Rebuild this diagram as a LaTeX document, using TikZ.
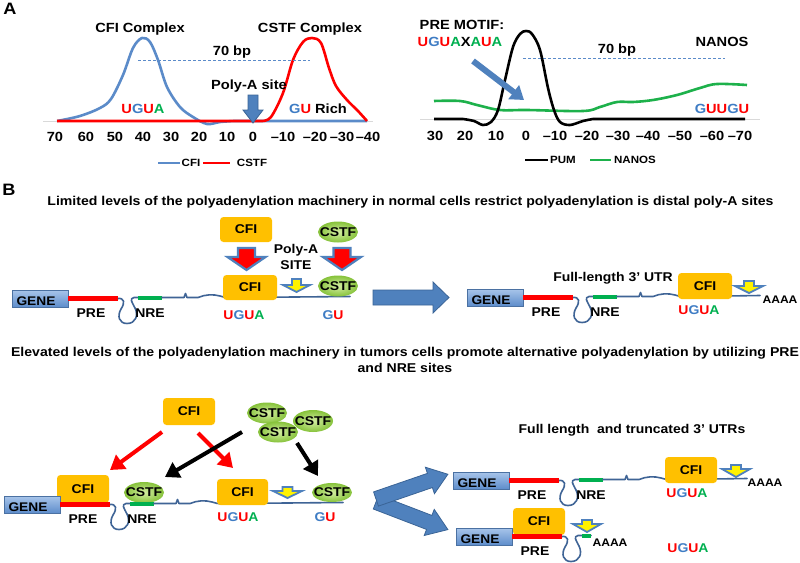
\documentclass[tikz,border=0pt]{standalone}
\usepackage{fontspec}
\setmainfont{Liberation Sans}[FakeStretch=1.1]
\usetikzlibrary{shapes.geometric,arrows.meta}
\definecolor{cred}{HTML}{FF0000}
\definecolor{cblue}{HTML}{3E7CC4}
\definecolor{cgreen}{HTML}{00B050}
\definecolor{curveblue}{HTML}{5B8BC9}
\definecolor{arrblue}{HTML}{4F81BD}
\definecolor{arrdark}{HTML}{3A6496}
\definecolor{rnablue}{HTML}{3F6496}
\definecolor{cfiorange}{HTML}{FFC000}
\definecolor{cstflight}{HTML}{D4EEA2}
\definecolor{cstfdark}{HTML}{86C23A}
\definecolor{genetop}{HTML}{A8C5EA}
\definecolor{genebot}{HTML}{5E8DCB}
\definecolor{axisgray}{HTML}{D9D9D9}
\definecolor{nanosgreen}{HTML}{1DB14B}
\newcommand{\myfs}[1]{\fontsize{#1}{#1}\selectfont\bfseries}
\newcommand{\uguatxt}{\textcolor{cred}{U}\textcolor{cblue}{G}\textcolor{cred}{U}\textcolor{cgreen}{A}}
\newcommand{\gutxt}{\textcolor{cblue}{G}\textcolor{cred}{U}}
% style, cx, top, tip, shaft half width, head start y, head half width
\newcommand{\blockdown}[7]{\draw[#1] ({#2-#5},#3) -- ({#2+#5},#3) -- ({#2+#5},#6) -- ({#2+#7},#6) -- (#2,#4) -- ({#2-#7},#6) -- ({#2-#5},#6) -- cycle;}
\newcommand{\rnarow}[4]{%
\begin{scope}[shift={(#1,#2)}]
 \draw[rna] (117,298.5) .. controls (125,297.5) and (125,303) .. (121,309) .. controls (117,316) and (119,323.5) .. (127,323.5) .. controls (136,323.5) and (138.5,315) .. (135,308) .. controls (132,302) and (129,298.5) .. (134,297.5) -- (#4,297.5);
 \node[genebox] (#3gene) at (40,298.5) {};
 \node[genetxt] (#3gtxt) at (36,301.5) {GENE};
 \draw[prered] (#3gene.east) -- (118,298.5);
 \draw[nregreen] (138,297.5) -- (#4,297.5);
 \node[txt] (#3pre) at (91,313) {PRE};
\end{scope}}
\newcommand{\rnatail}[3]{%
\begin{scope}[shift={(#1,#2)}]
 \draw[rna] (162,297.5) -- (184,297.5) -- (185.5,293.5) -- (187,297.5) -- (198,297.5) .. controls (205,294.5) and (213,294) .. (220,296) .. controls (226,298) and (231,298.5) .. (238,297.5) -- (#3,296.5);
\end{scope}}
\begin{document}
\begin{tikzpicture}[x=1pt,y=-1pt,
 txt/.style={inner sep=0pt, font=\myfs{12.7}},
 atxt/.style={inner sep=0pt, font=\myfs{13.3}},
 tick/.style={inner sep=0pt, font=\myfs{13.3}},
 leg/.style={inner sep=0pt, font=\myfs{10.5}},
 axisline/.style={draw=axisgray, line width=1},
 cfiline/.style={draw=curveblue, line width=2.6, line join=round},
 cstfline/.style={draw=cred, line width=2.6, line join=round},
 pumline/.style={draw=black, line width=2.6, line join=round},
 nanosline/.style={draw=nanosgreen, line width=2.6, line join=round},
 dashline/.style={draw=curveblue, line width=0.8, dash pattern=on 3pt off 2pt},
 rna/.style={draw=rnablue, line width=1.6, line join=round, line cap=round},
 prered/.style={draw=cred, line width=4.5},
 nregreen/.style={draw=cgreen, line width=4},
 genebox/.style={rectangle, top color=genetop, bottom color=genebot, draw=genebot!80!black, line width=0.5, minimum width=56, minimum height=17, inner sep=0pt},
 genetxt/.style={inner sep=0pt, font=\myfs{12.5}},
 cfibox/.style={rectangle, rounded corners=3.5, fill=cfiorange, inner sep=0pt, font=\myfs{12.7}},
 cstf/.style={ellipse, inner color=cstflight, outer color=cstfdark, minimum width=40, minimum height=21, inner sep=0pt, font=\myfs{12.7}},
 redblock/.style={fill=cred, draw=arrblue, line width=2.2, line join=miter},
 yelblock/.style={fill=yellow, draw=arrblue, line width=1.8, line join=miter},
 bigarrow/.style={fill=arrblue, draw=arrdark, line width=0.8, line join=miter},
 redarr/.style={draw=cred, line width=4, -{Triangle[length=14pt, width=17pt]}},
 blackarr/.style={draw=black, line width=4, -{Triangle[length=14pt, width=17pt]}},
 motifarr/.style={draw=arrblue, line width=6, -{Triangle[length=13pt, width=17pt]}}
]
\useasboundingbox (0,0) rectangle (800,562);
\fill[white] (0,0) rectangle (800,562);

% ================= Panel A left =================
\node[inner sep=0pt, font=\myfs{16.5}] (labA) at (10,9) {A};
\node[atxt] (cfic) at (140,29) {CFI Complex};
\node[atxt] (cstfc) at (310,29) {CSTF Complex};
\draw[axisline] (43,121) -- (373,121);
\draw[cfiline] plot[smooth, tension=0.55] coordinates {(57,121) (80,116) (100,108) (111,99) (123,75) (133,48) (142,38) (150,42) (158,60) (167,87) (180,107) (193,117) (207,124) (220,122) (234,121)} -- (367,121);
\draw[cstfline] (57,121) -- plot[smooth, tension=0.55] coordinates {(262,121) (271,117) (283,93) (293,60) (303,42) (312,38) (321,43) (329,68) (336,86) (347,100) (358,111) (367,121)};
\draw[dashline] (138,60) -- (310,60);
\node[atxt] (bp1) at (232,52) {70 bp};
\node[atxt] (pas) at (249,86) {Poly-A site};
\blockdown{bigarrow}{253}{95}{123}{5}{110}{10}
\node[atxt] (ugA) at (143,109) {\uguatxt};
\node[atxt] (guA) at (318,109) {\gutxt\ Rich};
\foreach \x/\t [count=\i] in {55/70,86/60,115/50,143/40,171/30,199/20,227/10,253/0,283/–10,315/–20,342/–30,368/–40}
  \node[tick] (tla\i) at (\x,137) {\t};
\draw[cfiline] (158,163) -- (180,163);
\node[leg] (legcfi) at (191,163) {CFI};
\draw[cstfline] (203,163) -- (230,163);
\node[leg] (legcstf) at (252,163) {CSTF};

% ================= Panel A right =================
\node[atxt] (premotif) at (462,25) {PRE MOTIF:};
\node[atxt] (premseq) at (460,42) {\textcolor{cred}{U}\textcolor{cblue}{G}\textcolor{cred}{U}\textcolor{cgreen}{A}X\textcolor{cgreen}{A}\textcolor{cred}{U}\textcolor{cgreen}{A}};
\node[atxt] (nanosl) at (722,42) {NANOS};
\draw[dashline] (523,58) -- (725,58);
\node[atxt] (bp2) at (617,50) {70 bp};
\draw[axisline] (420,119) -- (760,119);
\draw[nanosline] plot[smooth, tension=0.6] coordinates {(434,101) (460,101) (477,105) (500,110) (527,110) (583,111) (600,107) (617,102) (633,102) (653,100) (677,95) (700,88) (717,84) (747,85)};
\draw[pumline] (434,119) -- plot[smooth, tension=0.55] coordinates {(463,119) (474,121) (483,125) (491,122) (498,110) (505,80) (513,47) (520,34) (526,31) (532,34) (540,50) (548,88) (554,110) (560,122) (570,125) (583,121) (593,119)} -- (745,119);
\coordinate (pmA) at (473,61);
\coordinate (pmB) at (524,100);
\draw[motifarr] (pmA) -- (pmB);
\node[atxt] (guugu) at (722,109) {\textcolor{cblue}{G}\textcolor{cred}{U}\textcolor{cred}{U}\textcolor{cblue}{G}\textcolor{cred}{U}};
\foreach \x/\t [count=\i] in {435/30,465/20,496/10,526/0,555/–10,587/–20,618/–30,648/–40,680/–50,712/–60,740/–70}
  \node[tick] (tlb\i) at (\x,136) {\t};
\draw[pumline] (525,160) -- (548,160);
\node[leg] (legpum) at (563,160) {PUM};
\draw[nanosline] (590,160) -- (611,160);
\node[leg] (legnanos) at (635,160) {NANOS};

% ================= Panel B, row 1 =================
\node[inner sep=0pt, font=\myfs{16.5}] (labB) at (9,190) {B};
\node[inner sep=0pt, font=\myfs{12.8}] (title1) at (410.5,202) {Limited levels of the polyadenylation machinery in normal cells restrict polyadenylation is distal poly-A sites};

\rnarow{0}{0}{ra}{162}
\rnatail{0}{0}{350}
\node[txt] (nrea) at (150,313) {NRE};
\node[cfibox, minimum width=52, minimum height=25] (cfi1t) at (246,229.5) {CFI};
\node[cstf] (cstf1t) at (338,232) {\makebox[0pt]{CSTF}};
\blockdown{redblock}{246.5}{248}{270}{8.5}{257}{19}
\blockdown{redblock}{342}{248}{270}{8.5}{257}{19}
\node[inner sep=0pt, align=center, font=\fontsize{12.7}{15.5}\selectfont\bfseries] (polya1) at (296,257) {Poly-A\\SITE};
\node[cfibox, minimum width=54, minimum height=25] (cfi1) at (250,287.5) {CFI};
\blockdown{yelblock}{296.5}{279}{292}{4.5}{285}{13.5}
\node[cstf] (cstf1) at (338,286) {\makebox[0pt]{CSTF}};
\node[txt] (ug1) at (244,315) {\uguatxt};
\node[txt] (gu1) at (333,315) {\gutxt};

\draw[bigarrow] (373,290) -- (433,290) -- (433,282) -- (449,297.5) -- (433,313) -- (433,305) -- (373,305) -- cycle;

\rnarow{455}{-1}{rb}{162}
\rnatail{455}{-1}{305}
\node[txt] (nreb) at (605,312) {NRE};
\node[txt] (fl) at (613,278) {Full-length 3’ UTR};
\node[cfibox, minimum width=54, minimum height=26] (cfi2) at (705,286) {CFI};
\blockdown{yelblock}{749}{281}{293}{5}{286}{14}
\node[inner sep=0pt, font=\myfs{11}] (aaaa1) at (780,300) {AAAA};
\node[txt] (ug2) at (699,310) {\uguatxt};

% ================= Panel B, row 2 =================
\node[inner sep=0pt, align=center, font=\fontsize{12.8}{16}\selectfont\bfseries] (title2) at (405,360) {Elevated levels of the polyadenylation machinery in tumors cells promote alternative polyadenylation by utilizing PRE\\and NRE sites};

\node[cfibox, minimum width=52, minimum height=27] (cfi3t) at (189,411.5) {CFI};
\node[cstf] (cs3a) at (267,413) {\makebox[0pt]{CSTF}};
\node[cstf, minimum height=22] (cs3b) at (313,421) {\makebox[0pt]{CSTF}};
\node[cstf] (cs3c) at (278,432) {\makebox[0pt]{CSTF}};

\coordinate (ra1s) at (162,432);
\coordinate (ra1e) at (110,470);
\coordinate (ra2s) at (198,433);
\coordinate (ra2e) at (233,468);
\coordinate (ba1s) at (242,432);
\coordinate (ba1e) at (165,477);
\coordinate (ba2s) at (297,443);
\coordinate (ba2e) at (318,476);
\draw[redarr] (ra1s) -- (ra1e);
\draw[redarr] (ra2s) -- (ra2e);
\draw[blackarr] (ba1s) -- (ba1e);
\draw[blackarr] (ba2s) -- (ba2e);

\node[cfibox, minimum width=52, minimum height=28] (cfi3a) at (83,489) {CFI};
\node[cstf] (cs3d) at (144,492.5) {\makebox[0pt]{CSTF}};
\rnarow{-8}{206}{rc}{162}
\rnatail{-8}{206}{351}
\node[txt] (nrec) at (142,519) {NRE};
\node[cfibox, minimum width=51, minimum height=26] (cfi3b) at (242.5,492) {CFI};
\blockdown{yelblock}{287.5}{487}{498}{5}{491}{14.5}
\node[cstf, minimum height=19] (cs3e) at (332,492.5) {\makebox[0pt]{CSTF}};
\node[txt] (ug3) at (238,517) {\uguatxt};
\node[txt] (gu3) at (325,517) {\gutxt};

% fork arrows
\begin{scope}[shift={(376,502)}, rotate=-21]
 \draw[bigarrow] (0,-7.5) -- (57,-7.5) -- (57,-14) -- (77,0) -- (57,14) -- (57,7.5) -- (0,7.5) -- cycle;
\end{scope}
\begin{scope}[shift={(376,499)}, rotate=19]
 \draw[bigarrow] (0,-7.5) -- (57,-7.5) -- (57,-14) -- (76,0) -- (57,14) -- (57,7.5) -- (0,7.5) -- cycle;
\end{scope}

\node[txt] (fltr) at (632,430) {Full length\ \ and truncated 3’ UTRs};
\rnarow{441}{182}{rd}{162}
\rnatail{441}{182}{306}
\node[txt] (nred) at (591,495) {NRE};
\node[cfibox, minimum width=52, minimum height=26] (cfi4) at (691,470) {CFI};
\blockdown{yelblock}{736}{465}{477}{5}{469}{14}
\node[inner sep=0pt, font=\myfs{11}] (aaaa2) at (765,483) {AAAA};
\node[txt] (ug4) at (687,493) {\uguatxt};

\node[cfibox, minimum width=52, minimum height=27] (cfi5) at (539,521.5) {CFI};
\rnarow{444}{238}{re}{147}
\blockdown{yelblock}{587}{520}{532}{5}{524}{14}
\node[inner sep=0pt, font=\myfs{11}] (aaaa3) at (610,543) {AAAA};
\node[txt] (ug5) at (688,548) {\uguatxt};
\end{tikzpicture}
\end{document}
